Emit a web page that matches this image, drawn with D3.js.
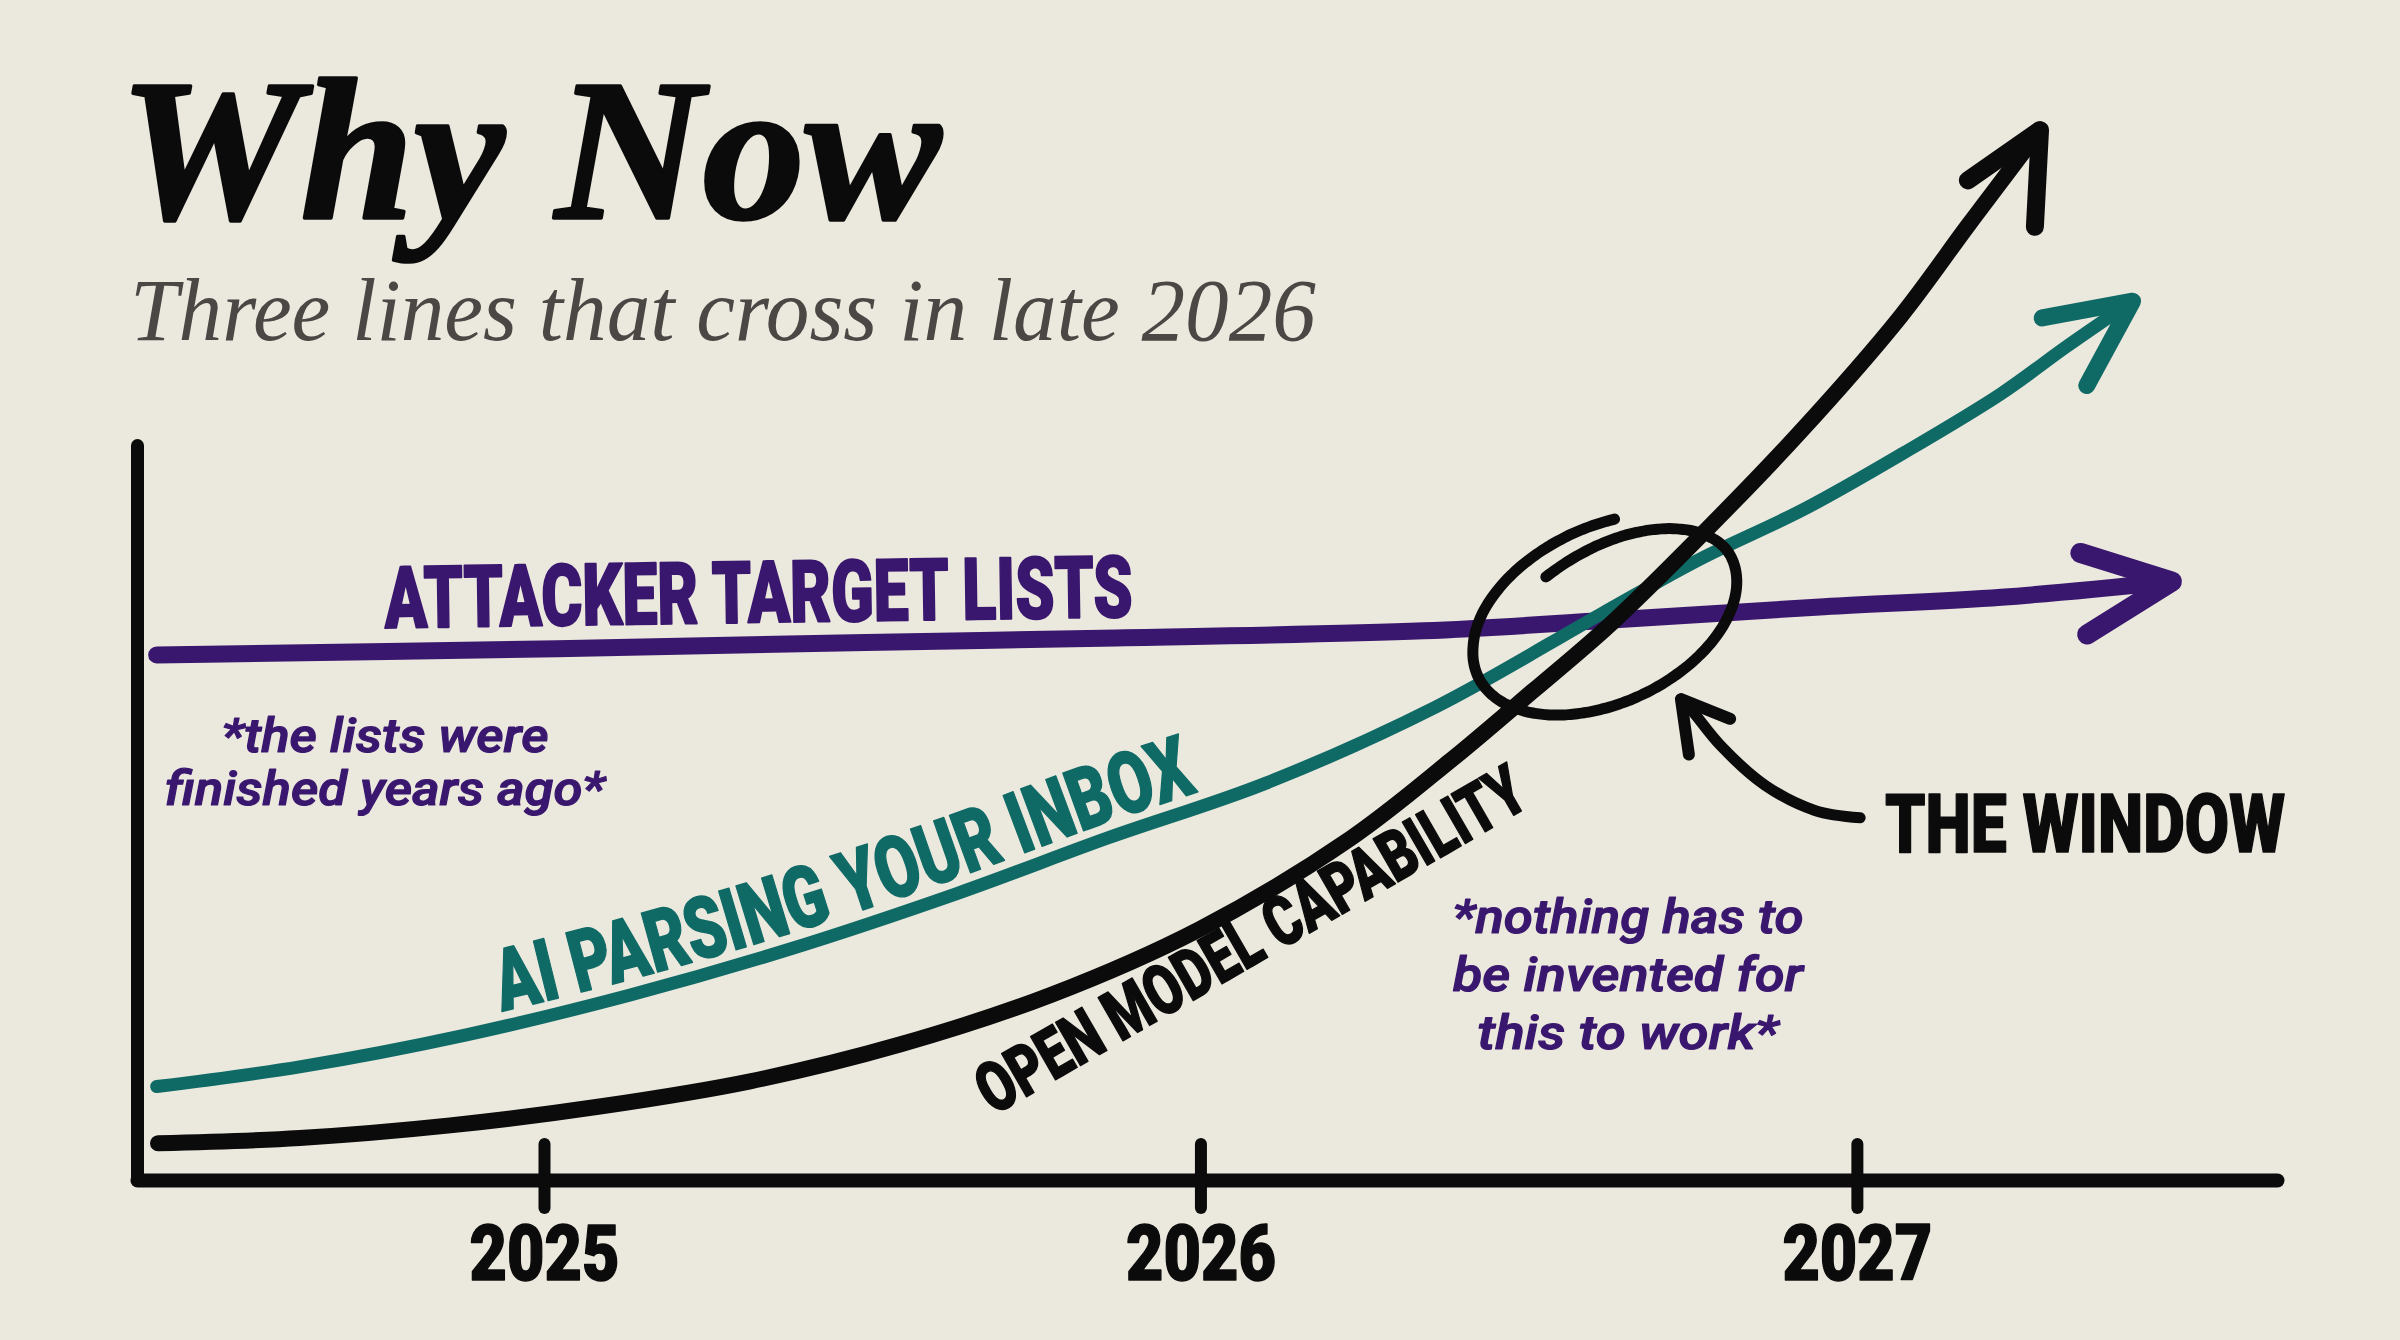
<!DOCTYPE html>
<html><head><meta charset="utf-8">
<script src="https://cdn.jsdelivr.net/npm/d3@7"></script>
<style>
html,body{margin:0;padding:0;background:#ebe8de;}
svg{display:block;}
</style></head><body>
<svg id="chart" width="2400" height="1340"></svg>
<script>
// ---------------- data ----------------
const titleText = "Why Now";
const subtitleText = "Three lines that cross in late 2026";
const tickYears = [2025, 2026, 2027];
const tickLabels = ["2025", "2026", "2027"];
const seriesNames = ["ATTACKER TARGET LISTS", "AI PARSING YOUR INBOX", "OPEN MODEL CAPABILITY"];

const attackerYears  = [2024.41, 2025.02, 2025.49, 2025.85, 2026.34, 2026.62, 2026.95, 2027.22, 2027.48];
const attackerValues = [50.0, 50.6, 51.2, 51.6, 52.3, 53.3, 54.6, 55.5, 57.0];

const inboxYears  = [2024.41, 2024.63, 2024.88, 2025.13, 2025.37, 2025.63, 2025.86, 2026.10, 2026.36, 2026.61, 2026.76, 2026.92, 2027.07, 2027.22, 2027.32, 2027.42];
const inboxValues = [8.9, 10.8, 13.8, 17.6, 21.9, 27.3, 32.6, 37.8, 45.1, 53.9, 59.1, 63.9, 69.2, 74.9, 79.4, 83.7];

const openYears  = [2024.412, 2024.628, 2024.857, 2025.085, 2025.314, 2025.542, 2025.771, 2025.999, 2026.228, 2026.380, 2026.507, 2026.624, 2026.761, 2026.913, 2027.066, 2027.168, 2027.244, 2027.279];
const openValues = [3.5, 4.0, 5.2, 7.0, 9.4, 12.9, 17.6, 23.9, 32.5, 39.9, 46.6, 52.9, 61.3, 71.2, 82.2, 90.8, 97.1, 100.0];

const windowCenter = [2026.616, 53.6];
const calloutYears  = [2027.005, 2026.936, 2026.860, 2026.792, 2026.750, 2026.732];
const calloutValues = [34.5, 35.2, 37.6, 41.4, 44.6, 45.8];
const windowLabel = "THE WINDOW";
const noteLists = ["*the lists were", "finished years ago*"];
const noteNothing = ["*nothing has to", "be invented for", "this to work*"];

// ---------------- setup ----------------
const W = 2400, H = 1340;
const BG = "#ebe8de", INK = "#0b0b0b", PURPLE = "#3a176e", TEAL = "#0f6a66";
const svg = d3.select("#chart");
svg.append("rect").attr("width", W).attr("height", H).attr("fill", BG);
const defs = svg.append("defs");

const x = d3.scaleLinear().domain([2024.38, 2027.64]).range([137, 2277]);
const y = d3.scaleLinear().domain([0, 100]).range([1180, 130]);

const condensed = "Roboto, 'DejaVu Sans', sans-serif";
function heavy(sel, color, sw) {
  return sel.attr("fill", color).attr("stroke", color).attr("stroke-width", sw)
    .attr("stroke-linejoin", "round").attr("paint-order", "stroke");
}

// title
heavy(svg.append("text").text(titleText)
  .attr("x", 119).attr("y", 218)
  .attr("textLength", 822).attr("lengthAdjust", "spacingAndGlyphs")
  .style("font-family", "'Liberation Serif', 'DejaVu Serif', serif")
  .style("font-weight", 700).style("font-style", "italic")
  .style("font-size", "201px"), INK, 3.5);
svg.append("text").text(subtitleText)
  .attr("x", 130).attr("y", 340)
  .attr("textLength", 1186).attr("lengthAdjust", "spacingAndGlyphs")
  .style("font-family", "'Liberation Serif', 'DejaVu Serif', serif")
  .style("font-style", "italic")
  .style("font-size", "88px").attr("fill", "#4a4744");

// axes
const xAxis = d3.axisBottom(x).tickValues(tickYears)
  .tickFormat((d, i) => tickLabels[i]).tickSize(0).tickSizeOuter(0);
const gx = svg.append("g").attr("transform", `translate(0,${y(0)})`).call(xAxis);
gx.select(".domain").attr("stroke", INK).attr("stroke-width", 14).attr("stroke-linecap", "round");
gx.selectAll(".tick line").attr("y1", -36).attr("y2", 28)
  .attr("stroke", INK).attr("stroke-width", 12).attr("stroke-linecap", "round");
heavy(gx.selectAll(".tick text").attr("y", 100).attr("dy", null)
  .attr("textLength", 150).attr("lengthAdjust", "spacingAndGlyphs")
  .style("font-family", condensed)
  .style("font-weight", 900).style("font-size", "78px"), INK, 1.5);

const yAxisScale = d3.scaleLinear().domain([0, 70]).range([y(0), y(70)]);
const gy = svg.append("g").attr("transform", `translate(${x.range()[0]},0)`)
  .call(d3.axisLeft(yAxisScale).tickValues([]).tickSizeOuter(0));
gy.select(".domain").attr("stroke", INK).attr("stroke-width", 13).attr("stroke-linecap", "round");

// lines
const line = d3.line().x(d => x(d[0])).y(d => y(d[1])).curve(d3.curveCatmullRom.alpha(0.5));
const zip = (a, b) => a.map((v, i) => [v, b[i]]);
const attackerData = zip(attackerYears, attackerValues);
const inboxData = zip(inboxYears, inboxValues);
const openData = zip(openYears, openValues);

function arrowHead(data, offs, lens, color, width) {
  const tip = [x(data[data.length - 1][0]), y(data[data.length - 1][1])];
  const prev = [x(data[data.length - 2][0]), y(data[data.length - 2][1])];
  const a = Math.atan2(prev[1] - tip[1], prev[0] - tip[0]);
  const b = offs.map((o, i) => [tip[0] + lens[i] * Math.cos(a + o * Math.PI / 180),
                                tip[1] + lens[i] * Math.sin(a + o * Math.PI / 180)]);
  svg.append("path").attr("d", d3.line()([b[0], tip, b[1]]))
    .attr("fill", "none").attr("stroke", color).attr("stroke-width", width)
    .attr("stroke-linecap", "round").attr("stroke-linejoin", "round");
}

svg.append("path").datum(attackerData).attr("d", line)
  .attr("fill", "none").attr("stroke", PURPLE).attr("stroke-width", 17).attr("stroke-linecap", "round");
arrowHead(attackerData, [22.6, -26.7], [96, 100], PURPLE, 20);

const tealPath = svg.append("path").datum(inboxData).attr("d", line)
  .attr("fill", "none").attr("stroke", TEAL).attr("stroke-width", 13).attr("stroke-linecap", "round");
arrowHead(inboxData, [24, -27], [92, 96], TEAL, 17);

svg.append("path").datum(openData).attr("d", line)
  .attr("fill", "none").attr("stroke", INK).attr("stroke-width", 16).attr("stroke-linecap", "round");
arrowHead(openData, [18, -34], [88, 97], INK, 18);

// window ellipse (hand drawn spiral)
(function () {
  const cx = x(windowCenter[0]), cy = y(windowCenter[1]);
  const rx = 140, ry = 86, rot = -25 * Math.PI / 180;
  const pts = [];
  const smooth = u => u * u * (3 - 2 * u);
  for (let deg = 250; deg <= 651; deg += 2) {
    const u = Math.min(1, (deg - 250) / 110);
    const r = 0.76 + 0.24 * smooth(u) + 0.05 * Math.max(0, (deg - 560) / 91);
    const t = deg * Math.PI / 180;
    const ex = rx * r * Math.cos(t), ey = ry * r * Math.sin(t);
    pts.push([cx + ex * Math.cos(rot) - ey * Math.sin(rot), cy + ex * Math.sin(rot) + ey * Math.cos(rot)]);
  }
  svg.append("path").attr("d", d3.line().curve(d3.curveBasis)(pts))
    .attr("fill", "none").attr("stroke", INK).attr("stroke-width", 11)
    .attr("stroke-linecap", "round");
})();

// callout arrow
const calloutData = zip(calloutYears, calloutValues);
svg.append("path").datum(calloutData).attr("d", line)
  .attr("fill", "none").attr("stroke", INK).attr("stroke-width", 11).attr("stroke-linecap", "round");
arrowHead(calloutData, [35, -25], [56, 53], INK, 12);

// ---------------- labels ----------------
heavy(svg.append("text").text(seriesNames[0])
  .attr("transform", "translate(385,628) rotate(-0.85)")
  .attr("textLength", 748).attr("lengthAdjust", "spacingAndGlyphs")
  .style("font-family", condensed).style("font-weight", 900).style("font-size", "86px"), PURPLE, 2);

// teal label along an offset of the teal curve, split in two chunks
(function () {
  const node = tealPath.node();
  const L = node.getTotalLength();
  const raw = [];
  for (let s = 0; s <= L; s += 3) raw.push(node.getPointAtLength(s));
  const d = 15;
  const off = raw.map((p, i) => {
    const p0 = raw[Math.max(0, i - 2)], p1 = raw[Math.min(raw.length - 1, i + 2)];
    const dx = p1.x - p0.x, dy = p1.y - p0.y, n = Math.hypot(dx, dy) || 1;
    return [p.x + d * dy / n, p.y - d * dx / n];
  });
  let acc = 0, s0 = null, s1 = null;
  for (let i = 1; i < off.length; i++) {
    acc += Math.hypot(off[i][0] - off[i - 1][0], off[i][1] - off[i - 1][1]);
    if (s0 === null && off[i][0] >= 500) s0 = acc;
    if (s1 === null && off[i][0] >= 1197) s1 = acc;
  }
  defs.append("path").attr("id", "tealLabelPath").attr("d", d3.line()(off));
  const label = seriesNames[1];
  const probe = svg.append("text").text(label)
    .style("font-family", condensed).style("font-weight", 900).style("font-size", "86px")
    .attr("opacity", 0);
  const pn = probe.node();
  const total = pn.getComputedTextLength();
  const k = (s1 - s0) / total;
  const words = label.split(" ");
  const chunks = [words.slice(0, 2).join(" "), words.slice(2).join(" ")];
  let idx = 0;
  chunks.forEach(chunk => {
    const start = label.indexOf(chunk, idx);
    const before = start > 0 ? pn.getSubStringLength(0, start) : 0;
    const wlen = pn.getSubStringLength(start, chunk.length);
    idx = start + chunk.length;
    heavy(svg.append("text")
      .style("font-family", condensed).style("font-weight", 900).style("font-size", "86px"), TEAL, 1.5)
      .append("textPath").attr("href", "#tealLabelPath")
      .attr("startOffset", s0 + k * before)
      .attr("textLength", k * wlen).attr("lengthAdjust", "spacingAndGlyphs")
      .text(chunk);
  });
  probe.remove();
})();

heavy(svg.append("text").text(seriesNames[2])
  .attr("transform", "translate(993,1116) rotate(-30)")
  .attr("textLength", 622).attr("lengthAdjust", "spacingAndGlyphs")
  .style("font-family", condensed).style("font-weight", 900).style("font-size", "70px"), INK, 1.5);

heavy(svg.append("text").text(windowLabel)
  .attr("x", 1885).attr("y", 852)
  .attr("textLength", 400).attr("lengthAdjust", "spacingAndGlyphs")
  .style("font-family", condensed).style("font-weight", 900).style("font-size", "82px"), INK, 1.5);

function note(lines, cx, y0, dy, widths) {
  lines.forEach((s, i) => {
    heavy(svg.append("text").text(s)
      .attr("x", cx).attr("y", y0 + i * dy)
      .attr("text-anchor", "middle")
      .attr("textLength", widths[i]).attr("lengthAdjust", "spacingAndGlyphs")
      .style("font-family", condensed).style("font-style", "italic")
      .style("font-weight", 500).style("font-size", "48px"), PURPLE, 1.2);
  });
}
note(noteLists, 385, 752, 53, [327, 440]);
note(noteNothing, 1628, 933, 58, [351, 350, 301]);
</script>
</body></html>
